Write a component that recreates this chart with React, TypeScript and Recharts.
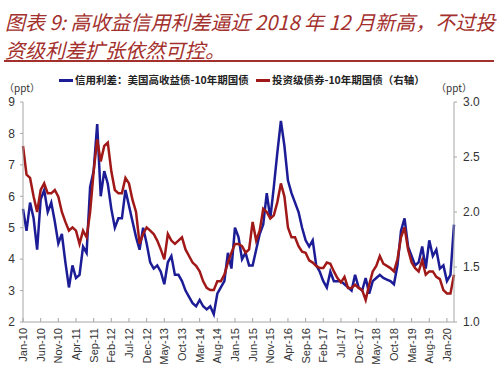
import React from 'react';
import { LineChart, Line, XAxis, YAxis } from 'recharts';

// x-axis tick labels, one every 5 months starting Jan-10
const tickLabels = [
  'Jan-10', 'Jun-10', 'Nov-10', 'Apr-11', 'Sep-11', 'Feb-12', 'Jul-12', 'Dec-12', 'May-13',
  'Oct-13', 'Mar-14', 'Aug-14', 'Jan-15', 'Jun-15', 'Nov-15', 'Apr-16', 'Sep-16', 'Feb-17',
  'Jul-17', 'Dec-17', 'May-18', 'Oct-18', 'Mar-19', 'Aug-19', 'Jan-20'
];
const tickMonths = [
  0, 5, 10, 15, 20, 25, 30, 35, 40, 45, 50, 55, 60, 65, 70, 75, 80, 85, 90, 95, 100, 105, 110, 115, 120
];

// monthly readings, Jan-10 .. Mar-20
// 信用利差：美国高收益债-10年期国债 (left axis, ppt)
const highYield = [
  5.6, 4.9, 5.8, 5.3, 4.3, 5.9, 6.2, 5.5, 5.8, 5.2,
  4.5, 4.8, 3.9, 3.1, 3.8, 3.4, 3.5, 4.4, 4.2, 6.3,
  6.8, 8.3, 6.0, 6.8, 6.4, 5.6, 5.0, 5.3, 5.3, 6.2,
  5.7, 5.2, 4.7, 4.3, 5.0, 4.5, 3.9, 3.7, 3.8, 3.6,
  3.2, 3.9, 4.1, 3.5, 3.5, 3.3, 3.0, 2.8, 2.6, 2.5,
  2.7, 2.5, 2.4, 2.5, 2.25, 2.9, 3.1, 3.3, 4.2, 3.7,
  5.0, 4.7, 4.0, 4.2, 3.8, 3.8, 4.3, 4.8, 5.1, 6.1,
  5.3, 6.3, 7.4, 8.4, 7.6, 6.5, 6.1, 5.8, 5.5, 5.0,
  4.6, 4.4, 4.6, 3.8, 3.6, 3.3, 3.1, 3.6, 3.3, 3.3,
  3.3, 3.2, 3.1, 3.0, 3.5, 3.1, 3.0, 3.4, 2.9, 3.3,
  3.4, 3.5, 3.4, 3.35, 3.3, 3.2, 3.8, 4.9, 5.3, 4.4,
  4.1, 3.8, 3.9, 4.4, 3.7, 4.6, 4.1, 4.3, 3.7, 3.8,
  3.3, 3.5, 5.1
];

// 投资级债券-10年期国债 (right axis, ppt)
const investGrade = [
  2.60, 2.34, 2.31, 2.14, 2.00, 2.20, 2.26, 2.17, 2.17, 2.20,
  2.14, 2.00, 1.91, 1.83, 1.86, 1.83, 1.71, 1.83, 1.77, 2.00,
  2.37, 2.66, 2.46, 2.60, 2.63, 2.37, 2.20, 2.17, 2.17, 2.31,
  2.26, 2.11, 2.00, 1.71, 1.80, 1.86, 1.83, 1.80, 1.74, 1.66,
  1.57, 1.80, 1.74, 1.71, 1.74, 1.77, 1.66, 1.60, 1.54, 1.51,
  1.46, 1.37, 1.31, 1.29, 1.29, 1.37, 1.37, 1.43, 1.54, 1.63,
  1.71, 1.71, 1.69, 1.63, 1.66, 1.91, 1.74, 1.83, 2.03, 2.00,
  1.94, 1.97, 2.09, 2.26, 2.14, 1.86, 1.77, 1.77, 1.69, 1.64,
  1.63, 1.56, 1.54, 1.51, 1.49, 1.49, 1.54, 1.53, 1.46, 1.40,
  1.36, 1.41, 1.31, 1.31, 1.34, 1.31, 1.29, 1.20, 1.34, 1.46,
  1.51, 1.60, 1.53, 1.51, 1.49, 1.46, 1.57, 1.77, 1.86, 1.66,
  1.54, 1.49, 1.46, 1.56, 1.43, 1.46, 1.46, 1.41, 1.39, 1.29,
  1.26, 1.26, 1.43
];

const leftTicks = [2, 3, 4, 5, 6, 7, 8, 9];
const rightTicks = [1, 1.5, 2, 2.5, 3];

const data = highYield.map((v, i) => ({ month: i, hy: v, ig: investGrade[i] }));

const BLUE = '#1c1c96';
const RED = '#a01818';
const TITLE = '#a3302c';
const AXIS = '#a6a6a6';
const TEXT = '#333';

const XTick = (props: any) => {
  const { x, y, payload } = props;
  const label = tickLabels[tickMonths.indexOf(payload.value)];
  return (
    <g>
      <line x1={x} x2={x} y1={y - 4} y2={y} stroke={AXIS} />
      <text
        x={x}
        y={y + 6}
        transform={`rotate(-90, ${x}, ${y + 6})`}
        textAnchor="end"
        dominantBaseline="central"
        fontSize={11}
        fontFamily="Liberation Sans, Arial, sans-serif"
        fill={TEXT}
      >
        {label}
      </text>
    </g>
  );
};

export default function App() {
  const tickFont = { fontSize: 12, fill: TEXT, fontFamily: 'Liberation Sans, Arial, sans-serif' };
  const pptStyle: React.CSSProperties = {
    position: 'absolute', top: 82, fontSize: 10, lineHeight: '12px',
    fontFamily: '"Noto Sans CJK SC", sans-serif', color: TEXT, whiteSpace: 'nowrap'
  };
  return (
    <div style={{ position: 'absolute', left: 0, top: 0, width: 500, height: 381, background: '#fff', overflow: 'hidden' }}>
      <div
        style={{
          position: 'absolute', left: 5, top: 8, color: TITLE, fontStyle: 'italic', fontSize: 20,
          fontFamily: '"Noto Sans CJK SC", sans-serif', lineHeight: '28px', whiteSpace: 'nowrap'
        }}
      >
        <div>图表 9: 高收益信用利差逼近 2018 年 12 月新高，不过投</div>
        <div>资级利差扩张依然可控。</div>
      </div>
      <div style={{ position: 'absolute', left: 4, top: 60, width: 490, height: 2, background: TITLE }} />

      <div
        style={{
          position: 'absolute', left: 0, top: 73, width: 500, height: 14, fontSize: 10.5,
          fontFamily: '"Noto Sans CJK SC", sans-serif', color: '#222', fontWeight: 600, whiteSpace: 'nowrap'
        }}
      >
        <div style={{ position: 'absolute', left: 59, top: 6, width: 14, height: 3, background: BLUE }} />
        <div style={{ position: 'absolute', left: 75, top: 0, lineHeight: '14px' }}>信用利差：美国高收益债-10年期国债</div>
        <div style={{ position: 'absolute', left: 256, top: 6, width: 14, height: 3, background: RED }} />
        <div style={{ position: 'absolute', left: 272, top: 0, lineHeight: '14px' }}>投资级债券-10年期国债（右轴）</div>
      </div>

      <div style={{ ...pptStyle, left: 4 }}>（ppt）</div>
      <div style={{ ...pptStyle, left: 436 }}>（ppt）</div>

      <LineChart width={500} height={381} data={data} margin={{ top: 102, right: 6, bottom: 4, left: 5 }}>
        <XAxis
          dataKey="month"
          type="number"
          domain={[0, 122]}
          ticks={tickMonths}
          interval={0}
          height={55}
          tickSize={0}
          tickMargin={0}
          tickLine={false}
          axisLine={{ stroke: AXIS }}
          tick={<XTick />}
        />
        <YAxis
          yAxisId="left"
          orientation="left"
          domain={[2, 9]}
          ticks={leftTicks}
          width={18}
          tickSize={3}
          tickMargin={5}
          axisLine={{ stroke: AXIS }}
          tickLine={{ stroke: AXIS }}
          tick={tickFont}
        />
        <YAxis
          yAxisId="right"
          orientation="right"
          domain={[1, 3]}
          ticks={rightTicks}
          width={40}
          tickSize={3}
          tickMargin={6}
          axisLine={{ stroke: AXIS }}
          tickLine={{ stroke: AXIS }}
          tick={tickFont}
          tickFormatter={(v: number) => v.toFixed(1)}
        />
        <Line yAxisId="left" type="linear" dataKey="hy" stroke={BLUE} strokeWidth={2.5} dot={false} isAnimationActive={false} />
        <Line yAxisId="right" type="linear" dataKey="ig" stroke={RED} strokeWidth={2.5} dot={false} isAnimationActive={false} />
      </LineChart>
    </div>
  );
}
